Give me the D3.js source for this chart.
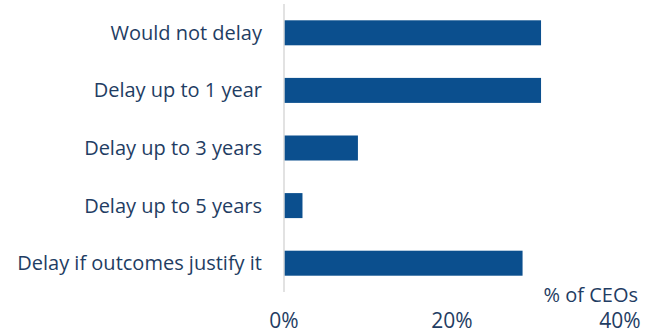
<!DOCTYPE html>
<html><head><meta charset="utf-8">
<script src="https://cdn.jsdelivr.net/npm/d3@7"></script>
<style>body{margin:0;background:#fff}svg{display:block}text{font-family:"Open Sans",sans-serif;fill:#1f3d63}</style>
</head><body><div id="chart"></div>
<script>
const categories = ["Would not delay","Delay up to 1 year","Delay up to 3 years","Delay up to 5 years","Delay if outcomes justify it"];
const values = [30.6, 30.6, 8.8, 2.2, 28.4];
const tickValues = [0, 20, 40];
const axisTitle = "% of CEOs";

const W = 657, H = 333;
const svg = d3.select("#chart").append("svg").attr("width", W).attr("height", H);
const x = d3.scaleLinear().domain([0, 40]).range([284, 620]);
const y = d3.scaleBand().domain(categories).range([4, 292]).paddingInner(0.566).paddingOuter(0.283);

svg.append("line").attr("x1", 284).attr("x2", 284).attr("y1", 4).attr("y2", 292)
  .attr("stroke", "#d9d9d9").attr("stroke-width", 1.5);

svg.selectAll("rect.bar").data(values).join("rect").attr("class","bar")
  .attr("x", x(0)+0.7).attr("y", (d,i)=>y(categories[i]))
  .attr("width", d=>x(d)-x(0)-0.7).attr("height", y.bandwidth())
  .attr("fill", "#0b4f8e");

svg.selectAll("text.cat").data(categories).join("text").attr("class","cat")
  .attr("x", 262).attr("y", d=>y(d)+y.bandwidth()/2).attr("dy","0.35em")
  .attr("text-anchor","end").style("font-size","20px").text(d=>d);

svg.selectAll("text.tick").data(tickValues).join("text").attr("class","tick")
  .attr("x", d=>x(d)).attr("y", 328).attr("text-anchor","middle")
  .style("font-size","21px").text(d=>d+"%");

svg.append("text").attr("x", 638).attr("y", 302).attr("text-anchor","end")
  .style("font-size","20px").text(axisTitle);
</script></body></html>
